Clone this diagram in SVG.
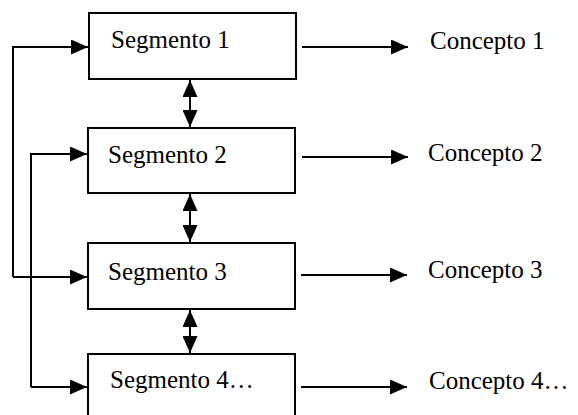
<svg xmlns="http://www.w3.org/2000/svg" width="578" height="415" viewBox="0 0 578 415">
<defs>
<marker id="ah" viewBox="0 0 17 15" refX="17" refY="7.5" markerWidth="17" markerHeight="15" markerUnits="userSpaceOnUse" orient="auto-start-reverse">
<path d="M0,0 L17,7.5 L0,15 Z" fill="#000"/>
</marker>
</defs>
<style>
.box{fill:#fff;stroke:#000;stroke-width:2}
.t{font-family:'Liberation Serif','Times New Roman',serif;font-size:25px;fill:#000}
.c{fill:none;stroke:#000;stroke-width:2}
</style>
<rect width="578" height="415" fill="#fff"/>
<g id="seg1"><rect class="box" x="89" y="13" width="207" height="66"/><text class="t" x="111" y="48">Segmento 1</text></g>
<g id="seg2"><rect class="box" x="88" y="128" width="207" height="65"/><text class="t" x="108" y="163">Segmento 2</text></g>
<g id="seg3"><rect class="box" x="88" y="243" width="207" height="66"/><text class="t" x="108" y="280">Segmento 3</text></g>
<g id="seg4"><rect class="box" x="88" y="354" width="207" height="70"/><text class="t" x="110" y="388">Segmento 4…</text></g>
<g id="con1"><text class="t" x="430" y="49">Concepto 1</text></g>
<g id="con2"><text class="t" x="428" y="161">Concepto 2</text></g>
<g id="con3"><text class="t" x="428" y="278">Concepto 3</text></g>
<g id="con4"><text class="t" x="429" y="389">Concepto 4…</text></g>
<g id="connectors">
<path class="c" d="M302,47 H408" marker-end="url(#ah)"/>
<path class="c" d="M302,157 H408" marker-end="url(#ah)"/>
<path class="c" d="M301,275 H407" marker-end="url(#ah)"/>
<path class="c" d="M301,387 H407" marker-end="url(#ah)"/>
<path class="c" d="M190,80 V127" marker-start="url(#ah)" marker-end="url(#ah)"/>
<path class="c" d="M190,194 V242" marker-start="url(#ah)" marker-end="url(#ah)"/>
<path class="c" d="M190,310 V353" marker-start="url(#ah)" marker-end="url(#ah)"/>
<path class="c" d="M13,277 V47 H88" marker-end="url(#ah)"/>
<path class="c" d="M13,277 H87" marker-end="url(#ah)"/>
<path class="c" d="M31,387 V154 H87" marker-end="url(#ah)"/>
<path class="c" d="M31,387 H87" marker-end="url(#ah)"/>
</g>
</svg>
